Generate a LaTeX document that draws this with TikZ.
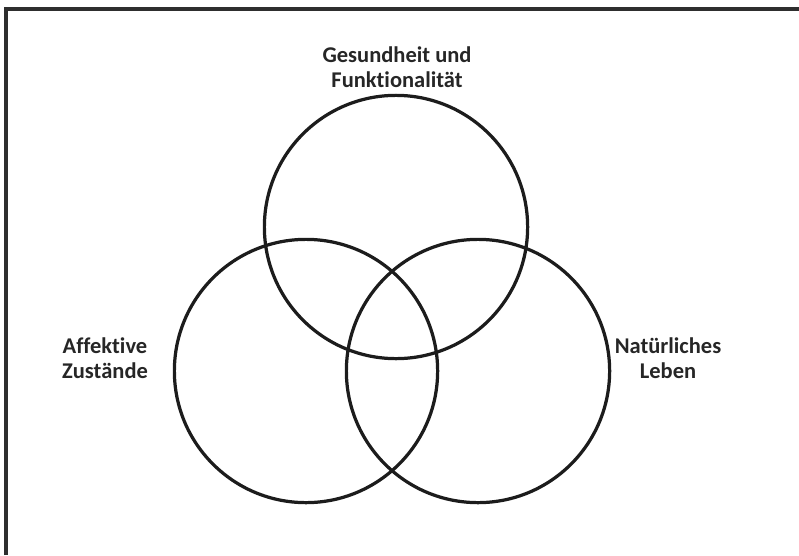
\documentclass[tikz,border=0pt]{standalone}
\usepackage{fontspec}
\setmainfont{Carlito}[Ligatures={NoCommon}]
\usepackage{tikz}
\usetikzlibrary{positioning}
\definecolor{vnLine}{HTML}{1C1C1C}
\definecolor{vnText}{HTML}{262626}
\definecolor{vnFrame}{HTML}{2E2E2E}
\tikzset{
  vnset/.style={
    draw=vnLine, circle, line width=2.3pt, minimum size=6.58cm, inner sep=0pt
  },
  vntag/.style={
    font=\fontsize{16}{17.8}\selectfont\bfseries, align=center, text=vnText
  },
  vnframe/.style={draw=vnFrame, line width=2.2pt}
}

\begin{document}
\begin{tikzpicture}[x=0.025cm, y=0.025cm]
  \useasboundingbox (0,0) rectangle (799,555);
  % outer frame, only top and left side visible
  \coordinate (fl) at (6,0);
  \coordinate (fc) at (6,546);
  \coordinate (fr) at (799,546);
  \draw[vnframe] (fl) -- (fc) -- (fr);
  % the three sets
  \node[vnset] (health) at (396,328) {};
  \node[vnset] (affect) at (306,184) {};
  \node[vnset] (nature) at (478,184) {};
  % labels
  \node[vntag] (healthtag) at (397,488) {Gesundheit und\\Funktionalität};
  \node[vntag] (affecttag) at (105,197) {Affektive\\Zustände};
  \node[vntag] (naturetag) at (668,197) {Natürliches\\Leben};
\end{tikzpicture}
\end{document}
